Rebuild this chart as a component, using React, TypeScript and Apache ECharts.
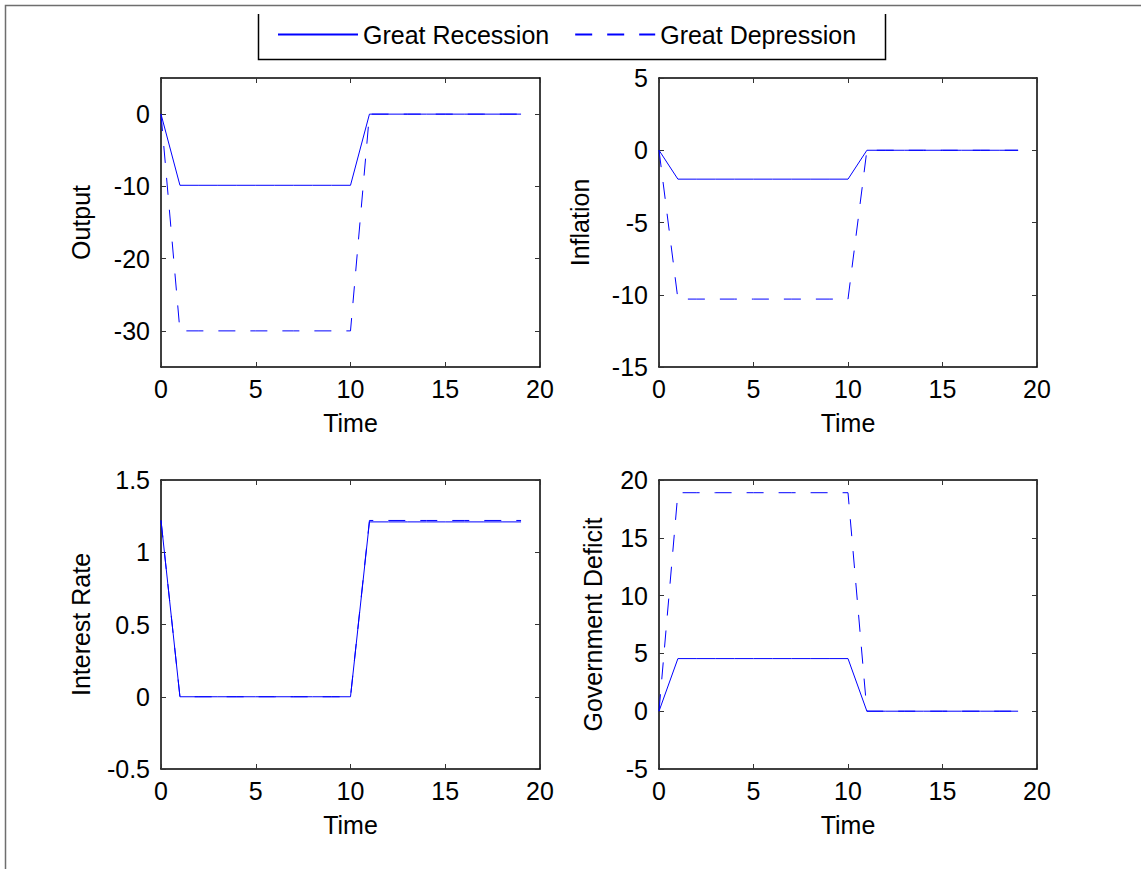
import React, { useEffect, useRef } from "react";
import * as echarts from "echarts";

const time = [0, 1, 2, 3, 4, 5, 6, 7, 8, 9, 10, 11, 12, 13, 14, 15, 16, 17, 18, 19];

const outputRecession = [0, -9.85, -9.85, -9.85, -9.85, -9.85, -9.85, -9.85, -9.85, -9.85, -9.85, 0, 0, 0, 0, 0, 0, 0, 0, 0];
const outputDepression = [0, -30, -30, -30, -30, -30, -30, -30, -30, -30, -30, 0, 0, 0, 0, 0, 0, 0, 0, 0];
const inflationRecession = [0, -2, -2, -2, -2, -2, -2, -2, -2, -2, -2, 0, 0, 0, 0, 0, 0, 0, 0, 0];
const inflationDepression = [0, -10.3, -10.3, -10.3, -10.3, -10.3, -10.3, -10.3, -10.3, -10.3, -10.3, 0, 0, 0, 0, 0, 0, 0, 0, 0];
const interestRecession = [1.22, 0, 0, 0, 0, 0, 0, 0, 0, 0, 0, 1.21, 1.21, 1.21, 1.21, 1.21, 1.21, 1.21, 1.21, 1.21];
const interestDepression = [1.22, 0, 0, 0, 0, 0, 0, 0, 0, 0, 0, 1.22, 1.22, 1.22, 1.22, 1.22, 1.22, 1.22, 1.22, 1.22];
const deficitRecession = [0, 4.55, 4.55, 4.55, 4.55, 4.55, 4.55, 4.55, 4.55, 4.55, 4.55, 0, 0, 0, 0, 0, 0, 0, 0, 0];
const deficitDepression = [0, 18.9, 18.9, 18.9, 18.9, 18.9, 18.9, 18.9, 18.9, 18.9, 18.9, 0, 0, 0, 0, 0, 0, 0, 0, 0];

const seriesNames = ["Great Recession", "Great Depression"];
const panelTitles = ["Output", "Inflation", "Interest Rate", "Government Deficit"];
const xTickLabels = [0, 5, 10, 15, 20];
const yRanges = [
  { min: -35, max: 5, ticks: [-30, -20, -10, 0] },
  { min: -15, max: 5, ticks: [-15, -10, -5, 0, 5] },
  { min: -0.5, max: 1.5, ticks: [-0.5, 0, 0.5, 1, 1.5] },
  { min: -5, max: 20, ticks: [-5, 0, 5, 10, 15, 20] },
];
const panelData = [
  [outputRecession, outputDepression],
  [inflationRecession, inflationDepression],
  [interestRecession, interestDepression],
  [deficitRecession, deficitDepression],
];

const FONT = "Liberation Sans, Arial, Helvetica, sans-serif";
const FS = 25;

export default function App() {
  const ref = useRef<HTMLDivElement>(null);
  useEffect(() => {
    if (!ref.current) return;
    const chart = echarts.init(ref.current, undefined, { renderer: "svg" });

    const grids = [
      { left: 161, top: 78, width: 379, height: 289 },
      { left: 659, top: 78, width: 378, height: 289 },
      { left: 161, top: 480, width: 379, height: 289 },
      { left: 659, top: 480, width: 378, height: 289 },
    ];
    const nameGaps = [68, 67, 68, 54];

    const axisLine = { show: true, onZero: false, lineStyle: { color: "#000", width: 1.5 } };
    const tick = { show: true, inside: true, length: 5, lineStyle: { color: "#333", width: 1 } };

    const xAxes: any[] = [];
    const yAxes: any[] = [];
    const series: any[] = [];

    grids.forEach((g, i) => {
      const r = yRanges[i];
      xAxes.push({
        type: "value",
        gridIndex: i,
        min: 0,
        max: 20,
        position: "bottom",
        axisLine,
        axisTick: { ...tick, customValues: xTickLabels },
        splitLine: { show: false },
        axisLabel: { customValues: xTickLabels, color: "#000", fontSize: FS, fontFamily: FONT, margin: 9 },
        name: "Time",
        nameLocation: "middle",
        nameGap: 43,
        nameTextStyle: { color: "#000", fontSize: FS, fontFamily: FONT },
      });
      xAxes.push({
        type: "value",
        gridIndex: i,
        min: 0,
        max: 20,
        position: "top",
        axisLine,
        axisTick: { ...tick, customValues: xTickLabels },
        splitLine: { show: false },
        axisLabel: { show: false },
      });
      yAxes.push({
        type: "value",
        gridIndex: i,
        min: r.min,
        max: r.max,
        position: "left",
        axisLine,
        axisTick: { ...tick, customValues: r.ticks },
        splitLine: { show: false },
        axisLabel: { customValues: r.ticks, color: "#000", fontSize: FS, fontFamily: FONT, margin: 11 },
        name: panelTitles[i],
        nameLocation: "middle",
        nameGap: nameGaps[i],
        nameTextStyle: { color: "#000", fontSize: FS, fontFamily: FONT },
      });
      yAxes.push({
        type: "value",
        gridIndex: i,
        min: r.min,
        max: r.max,
        position: "right",
        axisLine,
        axisTick: { ...tick, customValues: r.ticks },
        splitLine: { show: false },
        axisLabel: { show: false },
      });
      panelData[i].forEach((vals, k) => {
        series.push({
          type: "line",
          name: seriesNames[k],
          xAxisIndex: i * 2,
          yAxisIndex: i * 2,
          data: time.map((t, j) => [t, vals[j]]),
          symbol: "none",
          showSymbol: false,
          lineStyle: { color: "#0000ff", width: 1, type: k === 0 ? "solid" : [17, 15] },
          itemStyle: { color: "#0000ff" },
          z: k === 0 ? 2 : 3,
        });
      });
    });

    chart.setOption({
      animation: false,
      backgroundColor: "#fff",
      grid: grids,
      xAxis: xAxes,
      yAxis: yAxes,
      series,
      legend: {
        data: seriesNames,
        left: 272,
        top: 17,
        itemWidth: 80,
        itemHeight: 14,
        itemGap: 25,
        itemStyle: { opacity: 0 },
        textStyle: { color: "#000", fontSize: FS, fontFamily: FONT },
        selectedMode: false,
      },
      graphic: [
        {
          type: "rect",
          shape: { x: 5.5, y: 5.5, width: 1200, height: 1000 },
          style: { fill: "none", stroke: "#6e6e6e", lineWidth: 1.5 },
          silent: true,
        },
        {
          type: "polyline",
          shape: { points: [[258.5, 14], [258.5, 59.5], [885.5, 59.5], [885.5, 14]] },
          style: { fill: "none", stroke: "#000", lineWidth: 1.5 },
          silent: true,
        },
      ],
    });
    return () => chart.dispose();
  }, []);
  return (
    <div
      ref={ref}
      style={{ position: "absolute", left: 0, top: 0, width: 1141, height: 869, background: "#fff" }}
    />
  );
}
